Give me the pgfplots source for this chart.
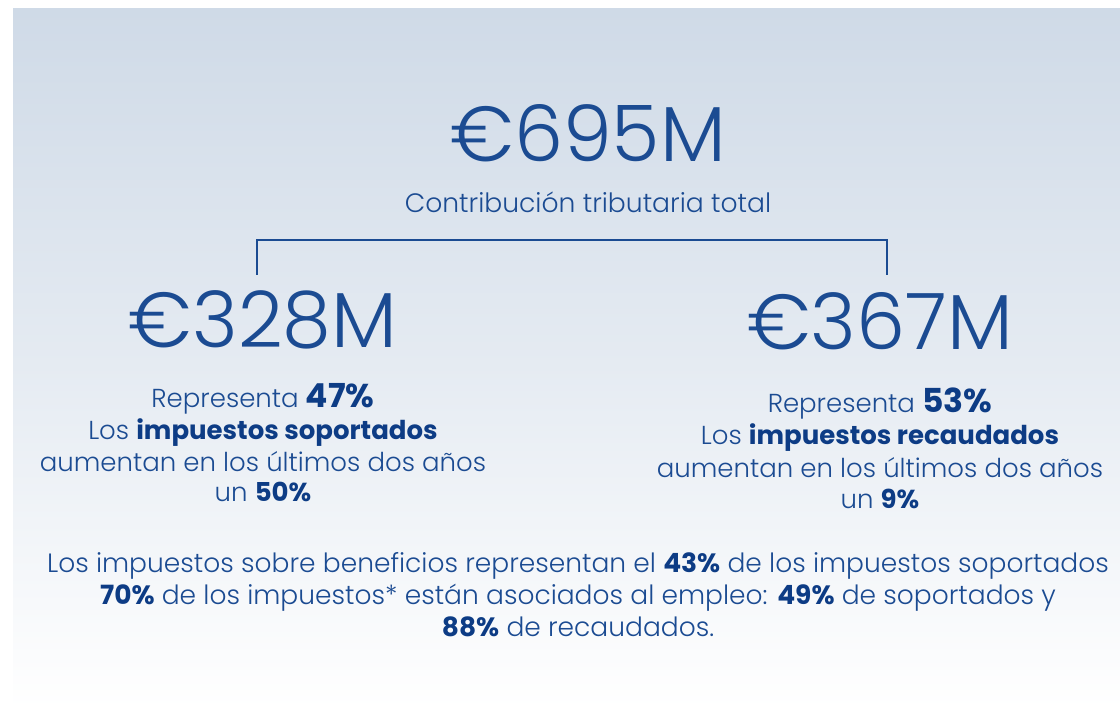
\documentclass[border=0pt]{standalone}
\usepackage{pgfplots}
\pgfplotsset{compat=1.18}
\usepackage{fontspec}
\IfFontExistsTF{Poppins Light}{%
  \setmainfont{Poppins}[UprightFont={* Light},BoldFont={* Bold}]%
}{%
  \setmainfont{Poppins}%
}
\definecolor{tx}{HTML}{1B4B92}
\definecolor{bd}{HTML}{0D3C85}
\definecolor{bgtop}{HTML}{CFDAE7}
\newcommand{\B}[1]{{\bfseries\color{bd}#1}}
\begin{document}
\begin{tikzpicture}
\begin{axis}[scale only axis, width=1120pt, height=709pt,
  xmin=0, xmax=1120, ymin=0, ymax=709, hide axis, clip=false]
\path (axis cs:0,0) rectangle (axis cs:1120,709);
\shade[top color=bgtop, bottom color=white, middle color=bgtop!55!white] (axis cs:13,0) rectangle (axis cs:1120,700);
% bracket
\addplot[tx, line width=1.6pt, line join=miter] coordinates {(257,434) (257,469) (887,469) (887,434)};
% headline numbers (EUR millions): total 695 = 328 + 367
\node[anchor=base, text=tx, font=\fontsize{78}{86}\selectfont, inner sep=0pt] at (axis cs:588,547) {€695M};
\node[anchor=base, text=tx, font=\fontsize{26.6}{30}\selectfont, inner sep=0pt] at (axis cs:588,496) {Contribución tributaria total};
\node[anchor=base, text=tx, font=\fontsize{78}{86}\selectfont, inner sep=0pt] at (axis cs:263,361) {€328M};
\node[anchor=base, text=tx, font=\fontsize{78}{86}\selectfont, inner sep=0pt] at (axis cs:880,359) {€367M};
\begin{scope}[every node/.style={anchor=base, text=tx, font=\fontsize{26}{30}\selectfont, inner sep=0pt}]
% left block
\node at (axis cs:263,301) {Representa \B{\fontsize{33}{36}\selectfont 47\%}};
\node at (axis cs:263,269) {Los \B{impuestos soportados}};
\node at (axis cs:263,237) {aumentan en los últimos dos años};
\node at (axis cs:263,207) {un \B{50\%}};
% right block
\node at (axis cs:880,296) {Representa \B{\fontsize{33}{36}\selectfont 53\%}};
\node at (axis cs:880,264) {Los \B{impuestos recaudados}};
\node at (axis cs:880,231) {aumentan en los últimos dos años};
\node at (axis cs:880,200) {un \B{9\%}};
\end{scope}
\begin{scope}[every node/.style={anchor=base, text=tx, font=\fontsize{26.5}{30}\selectfont, inner sep=0pt}]
% bottom
\node at (axis cs:578,136) {Los impuestos sobre beneficios representan el \B{43\%} de los impuestos soportados};
\node at (axis cs:578,104) {\B{70\%} de los impuestos* están asociados al empleo: \B{49\%} de soportados y};
\node at (axis cs:578,72) {\B{88\%} de recaudados.};
\end{scope}
\end{axis}
\end{tikzpicture}
\end{document}
